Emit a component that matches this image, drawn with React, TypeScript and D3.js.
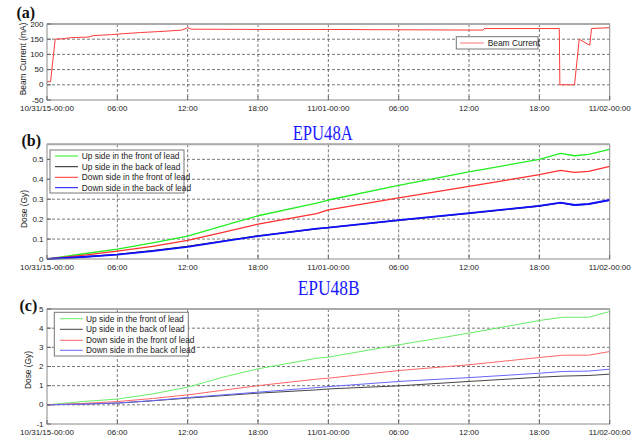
import React from "react";
import * as d3 from "d3";

const xTickLabels = ["10/31/15-00:00", "06:00", "12:00", "18:00", "11/01-00:00", "06:00", "12:00", "18:00", "11/02-00:00"];
const xTickHours = [0, 6, 12, 18, 24, 30, 36, 42, 48];

// Panel (a) beam current
const beamHours = [0, 0.3, 0.7, 1.5, 2.0, 3.5, 4.0, 5.5, 6.5, 8, 10, 11.5, 12, 12.3, 18, 24, 30, 37.2, 37.3, 43.7, 43.75, 45, 45.4, 46.3, 46.45, 48];
const beamValues = [10, 10, 150, 152, 155, 157, 162, 165, 168, 172, 176, 180, 188, 183, 182, 182, 181, 180, 185, 185, 0, 0, 150, 130, 185, 188];

// Panel (b) EPU48A dose
const doseAHours = [0, 3, 6, 9, 12, 15, 18, 23, 24, 30, 36, 42, 43.8, 45, 46.2, 48];
const doseAUpFront = [0, 0.025, 0.05, 0.081, 0.115, 0.166, 0.217, 0.28, 0.296, 0.369, 0.437, 0.5, 0.53, 0.518, 0.525, 0.55];
const doseAUpBack = [0, 0.01, 0.023, 0.042, 0.063, 0.09, 0.116, 0.151, 0.157, 0.194, 0.229, 0.266, 0.282, 0.271, 0.275, 0.295];
const doseADownFront = [0, 0.018, 0.039, 0.063, 0.093, 0.134, 0.175, 0.228, 0.247, 0.307, 0.364, 0.423, 0.445, 0.435, 0.44, 0.465];
const doseADownBack = [0, 0.01, 0.022, 0.04, 0.061, 0.088, 0.115, 0.152, 0.157, 0.195, 0.23, 0.267, 0.283, 0.271, 0.276, 0.296];

// Panel (c) EPU48B dose
const doseBHours = [0, 3, 6, 9, 12, 15, 18, 23, 24, 30, 36, 42, 44, 46.2, 48];
const doseBUpFront = [0, 0.17, 0.3, 0.57, 0.92, 1.44, 1.88, 2.43, 2.49, 3.13, 3.74, 4.4, 4.57, 4.57, 4.87];
const doseBUpBack = [0, 0.04, 0.09, 0.21, 0.35, 0.48, 0.61, 0.78, 0.83, 0.99, 1.22, 1.44, 1.5, 1.53, 1.6];
const doseBDownFront = [0, 0.07, 0.17, 0.33, 0.52, 0.76, 1.0, 1.34, 1.39, 1.79, 2.09, 2.47, 2.59, 2.59, 2.78];
const doseBDownBack = [0, 0.04, 0.09, 0.22, 0.38, 0.52, 0.66, 0.9, 0.95, 1.22, 1.42, 1.65, 1.74, 1.76, 1.86];

const legendLabels = ["Up side in the front of lead", "Up side in the back of lead", "Down side in the front of lead", "Down side in the back of lead"];

const X0 = 47;
const X1 = 609.7;
const FONT = "'Liberation Sans', Arial, sans-serif";
const SERIF = "'Liberation Serif', 'Times New Roman', serif";
const TICK_FS = 8;

type Series = { hours: number[]; values: number[]; color: string; width: number };

function Panel(props: {
  top: number;
  bottom: number;
  yDomain: [number, number];
  yTicks: number[];
  yFmt: (v: number) => string;
  series: Series[];
  ylabel: string;
  ylabelX: number;
  ylabelY: number;
  xLabelY: number;
}) {
  const { top, bottom, yDomain, yTicks, yFmt, series, ylabel, ylabelX, ylabelY, xLabelY } = props;
  const x = d3.scaleLinear().domain([0, 48]).range([X0, X1]);
  const y = d3.scaleLinear().domain(yDomain).range([bottom, top]);
  const line = d3
    .line<[number, number]>()
    .x((d) => x(d[0]))
    .y((d) => y(d[1]));
  return (
    <g>
      <rect x={X0} y={top} width={X1 - X0} height={bottom - top} fill="#fff" />
      {xTickHours.slice(1, -1).map((h, i) => (
        <line key={"gx" + i} x1={x(h)} x2={x(h)} y1={top} y2={bottom} stroke="#555" strokeWidth={0.8} strokeDasharray="3,2" />
      ))}
      {yTicks
        .filter((t) => t !== yDomain[0] && t !== yDomain[1])
        .map((t, i) => (
          <line key={"gy" + i} x1={X0} x2={X1} y1={y(t)} y2={y(t)} stroke="#555" strokeWidth={0.8} strokeDasharray="3,2" />
        ))}
      {series.map((s, i) => (
        <path
          key={"s" + i}
          d={line(s.hours.map((h, j) => [h, s.values[j]] as [number, number])) || ""}
          fill="none"
          stroke={s.color}
          strokeWidth={s.width}
          strokeLinejoin="round"
        />
      ))}
      <rect x={X0} y={top} width={X1 - X0} height={bottom - top} fill="none" stroke="#8a8a8a" strokeWidth={1} />
      <line x1={X0} x2={X1} y1={top} y2={top} stroke="#aaa" strokeWidth={2} />
      {yTicks.map((t, i) => (
        <g key={"yt" + i}>
          <line x1={X0} x2={X0 + 4} y1={y(t)} y2={y(t)} stroke="#666" />
          <text x={X0 - 3.5} y={y(t) + 2.6} textAnchor="end" fontSize={TICK_FS} fontFamily={FONT} fill="#222">
            {yFmt(t)}
          </text>
        </g>
      ))}
      {xTickHours.map((h, i) => (
        <g key={"xt" + i}>
          <line x1={x(h)} x2={x(h)} y1={bottom} y2={bottom - 4} stroke="#666" />
          <text x={x(h)} y={xLabelY} textAnchor="middle" fontSize={TICK_FS} fontFamily={FONT} fill="#222">
            {xTickLabels[i]}
          </text>
        </g>
      ))}
      <text
        transform={`translate(${ylabelX},${ylabelY}) rotate(-90)`}
        textAnchor="middle"
        fontSize={8.4}
        fontFamily={FONT}
        fill="#222"
      >
        {ylabel}
      </text>
    </g>
  );
}

function Legend(props: { x: number; y: number; w: number; h: number; rows: number[]; labels: string[]; colors: string[]; lx1: number; lx2: number; tx: number }) {
  const { x, y, w, h, rows, labels, colors, lx1, lx2, tx } = props;
  return (
    <g>
      <rect x={x} y={y} width={w} height={h} fill="#fff" stroke="#777" strokeWidth={1} />
      {labels.map((l, i) => (
        <g key={i}>
          <line x1={lx1} x2={lx2} y1={rows[i]} y2={rows[i]} stroke={colors[i]} strokeWidth={1} />
          <text x={tx} y={rows[i] + 3} fontSize={8.4} fontFamily={FONT} fill="#222">
            {l}
          </text>
        </g>
      ))}
    </g>
  );
}

export default function App() {
  const colorsB = ["#22ee22", "#222222", "#ff3030", "#1010ff"];
  const colorsC = ["#66ee66", "#444444", "#ff6666", "#6666ff"];
  return (
    <svg width={637} height={436} style={{ position: "absolute", left: 0, top: 0, background: "#fff" }}>
      <rect x={0} y={0} width={637} height={436} fill="#fff" />
      {/* Panel (a) */}
      <text x={16.5} y={17.5} fontSize={16} fontWeight="bold" fontFamily={SERIF} fill="#111">(a)</text>
      <Panel
        top={24}
        bottom={100}
        yDomain={[-50, 200]}
        yTicks={[-50, 0, 50, 100, 150, 200]}
        yFmt={(v) => String(v)}
        series={[{ hours: beamHours, values: beamValues, color: "#ff3a3a", width: 1 }]}
        ylabel="Beam Current (mA)"
        ylabelX={26}
        ylabelY={59}
        xLabelY={110.5}
      />
      <Legend x={456.3} y={36.7} w={81.7} h={12.3} rows={[43]} labels={["Beam Current"]} colors={["#ff7070"]} lx1={460.3} lx2={483.7} tx={487.7} />

      {/* Panel (b) */}
      <text x={322.7} y={140} textAnchor="middle" fontSize={21} fontFamily={SERIF} fill="#1a1aff" textLength={60} lengthAdjust="spacingAndGlyphs">EPU48A</text>
      <text x={21.5} y={146} fontSize={16} fontWeight="bold" fontFamily={SERIF} fill="#111">(b)</text>
      <Panel
        top={144.3}
        bottom={259}
        yDomain={[0, 0.5755]}
        yTicks={[0, 0.1, 0.2, 0.3, 0.4, 0.5]}
        yFmt={(v) => (v === 0 ? "0" : d3.format(".1f")(v))}
        series={[
          { hours: doseAHours, values: doseAUpFront, color: colorsB[0], width: 1.3 },
          { hours: doseAHours, values: doseAUpBack, color: colorsB[1], width: 1.3 },
          { hours: doseAHours, values: doseADownFront, color: colorsB[2], width: 1.3 },
          { hours: doseAHours, values: doseADownBack, color: colorsB[3], width: 1.8 },
        ]}
        ylabel="Dose (Gy)"
        ylabelX={27}
        ylabelY={209}
        xLabelY={269.5}
      />
      <Legend x={50} y={150} w={134} h={43} rows={[156, 166.7, 177.3, 187.7]} labels={legendLabels} colors={colorsB} lx1={55} lx2={78} tx={81.7} />

      {/* Panel (c) */}
      <text x={328.7} y={295} textAnchor="middle" fontSize={21} fontFamily={SERIF} fill="#1a1aff" textLength={62} lengthAdjust="spacingAndGlyphs">EPU48B</text>
      <text x={19.5} y={311} fontSize={16} fontWeight="bold" fontFamily={SERIF} fill="#111">(c)</text>
      <Panel
        top={309}
        bottom={424}
        yDomain={[-1, 5]}
        yTicks={[-1, 0, 1, 2, 3, 4, 5]}
        yFmt={(v) => String(v)}
        series={[
          { hours: doseBHours, values: doseBUpFront, color: colorsC[0], width: 1 },
          { hours: doseBHours, values: doseBUpBack, color: colorsC[1], width: 1 },
          { hours: doseBHours, values: doseBDownFront, color: colorsC[2], width: 1 },
          { hours: doseBHours, values: doseBDownBack, color: colorsC[3], width: 1 },
        ]}
        ylabel="Dose (Gy)"
        ylabelX={31}
        ylabelY={370}
        xLabelY={434.5}
      />
      <Legend x={54.3} y={312.3} w={134} h={43.7} rows={[318.7, 329.3, 340.3, 350.3]} labels={legendLabels} colors={colorsC} lx1={60} lx2={82.7} tx={86} />
    </svg>
  );
}
